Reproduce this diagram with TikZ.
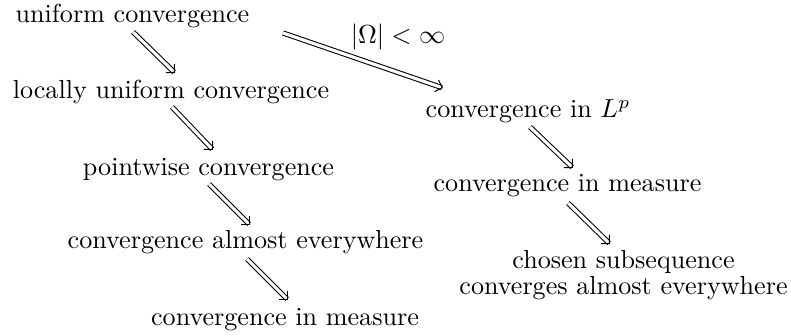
\documentclass[tikz,border=0pt]{standalone}
\usepackage{amsmath,amssymb}
\usetikzlibrary{arrows.meta, calc}

\begin{document}
\begin{tikzpicture}[
  x=0.3831pt, y=-0.3831pt,
  stmt/.style = {anchor=base, inner sep=0, font=\normalsize},
  imp/.style  = {double, double distance=1.2pt, line width=0.4pt,
                 -{Straight Barb[angle=90:3.3pt]}},
]
\useasboundingbox (0,0) rectangle (791,336);
% ── left column ──
\node[stmt] (uc)  at (132.5,23)  {uniform convergence};
\node[stmt] (luc) at (171,99)    {locally uniform convergence};
\node[stmt] (pw)  at (208.5,176) {pointwise convergence};
\node[stmt] (ae)  at (245.5,249) {convergence almost everywhere};
\node[stmt] (ml)  at (285,326)   {convergence in measure};
% ── right column ──
\node[stmt] (lp)  at (528,118)   {convergence in $L^p$};
\node[stmt] (mr)  at (567.5,192) {convergence in measure};
\node[stmt, anchor=north, align=center, font=\fontsize{10}{10}\selectfont]
  (sub) at (623.5,250) {chosen subsequence\\converges almost everywhere};
% ── condition ──
\node[stmt] (fin) at (398,44) {$|\Omega|<\infty$};
% ── implications ──
\draw[imp] ($(uc.base)+(0.5,9)$)   -- ($(luc.base)+(4,-26)$);
\draw[imp] ($(luc.base)+(1,8)$)    -- ($(pw.base)+(4.5,-26)$);
\draw[imp] ($(pw.base)+(0.5,8)$)   -- ($(ae.base)+(4.5,-24)$);
\draw[imp] ($(ae.base)+(1.5,10)$)  -- ($(ml.base)+(3,-26)$);
\draw[imp] ($(uc.base)+(150.5,10)$) -- ($(lp.base)+(-85,-30)$);
\draw[imp] ($(lp.base)+(2,9)$)     -- ($(mr.base)+(5.5,-24)$);
\draw[imp] ($(mr.base)+(0.5,11)$)  -- ($(sub.north)+(-13.5,-6)$);
\end{tikzpicture}
\end{document}
